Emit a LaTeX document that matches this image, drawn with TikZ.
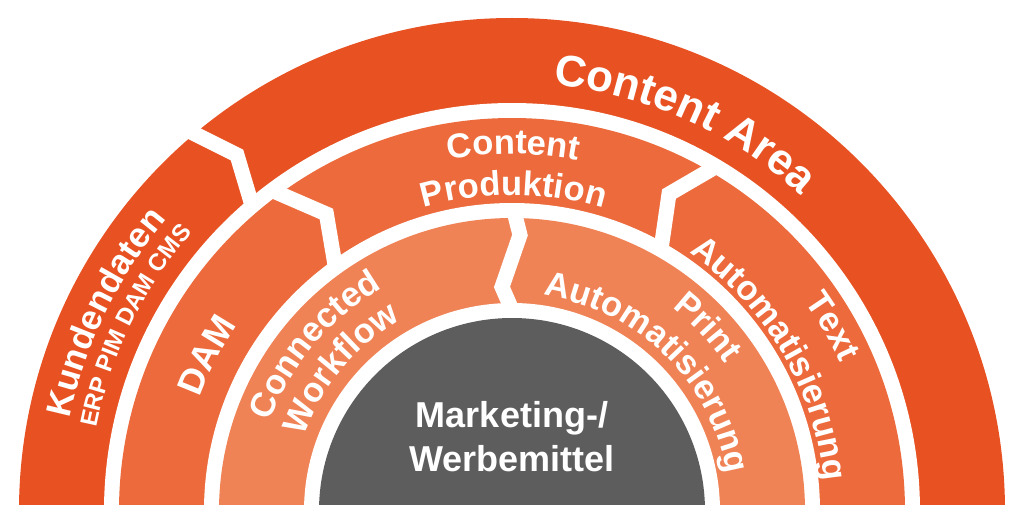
\documentclass[tikz,border=0pt]{standalone}
\usepackage{fontspec}
\setmainfont{Liberation Sans}
\usetikzlibrary{decorations.text}
\definecolor{ringA}{RGB}{232,82,35}
\definecolor{ringB}{RGB}{236,106,60}
\definecolor{ringC}{RGB}{240,131,86}
\definecolor{core}{RGB}{93,93,93}
\newcommand\ringlabel[5]{%
  \path[decorate, decoration={text along path, text align=center, text color=white,
     text={|\fontsize{#4}{#4}\selectfont\bfseries|#5}}]
     (#2:#1pt) arc[start angle=#2, end angle=#3, radius=#1pt];}
\begin{document}
\begin{tikzpicture}[x=1pt,y=1pt,
  sep/.style={white, line width=15pt, line join=miter, line cap=butt},
  core label/.style={font=\fontsize{36}{36}\selectfont\bfseries, text=white, anchor=base, inner sep=0pt}]
\useasboundingbox (-512,-12) rectangle (512,511);
\begin{scope}
  \clip (-512,7) rectangle (512,511);
  \fill[ringA] (0,0) circle[radius=493pt];
  \fill[white] (0,0) circle[radius=408pt];
  \fill[ringB] (0,0) circle[radius=393pt];
  \fill[white] (0,0) circle[radius=308pt];
  \fill[ringC] (0,0) circle[radius=293pt];
  \fill[white] (0,0) circle[radius=208pt];
  \fill[core] (0,0) circle[radius=193pt];
\end{scope}
% separators
\draw[sep] (-325,381) -- (-275,356) -- (-260.2,306.3);
\draw[sep] (-238.4,319.9) -- (-185.6,297.0) -- (-176.75,244.6);
\draw[sep] (203,343.8) -- (157,317) -- (148.9,261.1);
\draw[sep] (1.86,300.3) -- (8,276) -- (-10,224) -- (0,201.1);
% labels
\ringlabel{428}{100}{32}{44}{Content Area}
\ringlabel{452}{185}{123}{35}{Kundendaten}
\ringlabel{424}{185}{122.6}{24}{ERP PIM DAM CMS}
\ringlabel{332}{183}{123}{36}{DAM}
\ringlabel{357}{119.8}{59.8}{34.5}{Content}
\ringlabel{316}{119.7}{59.7}{34.5}{Produktion}
\ringlabel{360}{60}{0}{34.5}{Text}
\ringlabel{313}{65.5}{-4.5}{34.5}{Automatisierung}
\ringlabel{258}{180}{100}{34.5}{Connected}
\ringlabel{221}{180.2}{100.2}{34.5}{Workflow}
\ringlabel{259}{83.2}{3.2}{34.5}{Print}
\ringlabel{218}{95.7}{-4.3}{34.5}{Automatisierung}
\node[core label] (m1) at (0,84) {Marketing-/};
\node[core label] (m2) at (0,40) {Werbemittel};
\end{tikzpicture}
\end{document}
